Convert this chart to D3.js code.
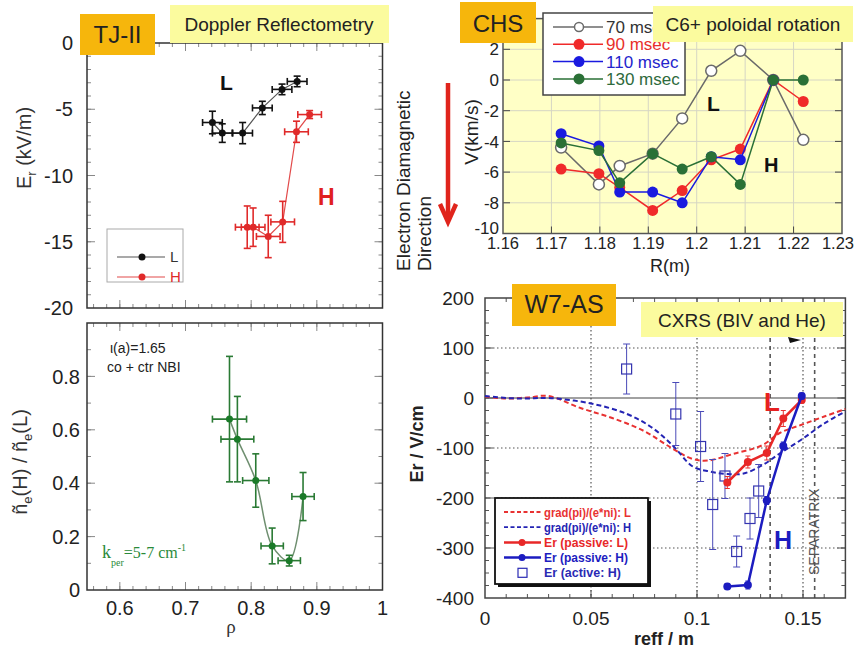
<!DOCTYPE html>
<html>
<head>
<meta charset="utf-8">
<script src="https://cdn.jsdelivr.net/npm/d3@7"></script>
<style>
body{margin:0;background:#fff;}
svg{display:block;font-family:"Liberation Sans",Arial,sans-serif;}
</style>
</head>
<body>
<svg id="chart" width="857" height="655"></svg>
<script>
// ---------- TJ-II: Er from Doppler reflectometry
var tjRhoL   = [0.741, 0.756, 0.787, 0.817, 0.847, 0.870];
var tjErL    = [-6.0, -6.8, -6.8, -4.9, -3.5, -2.9];
var tjErLerr = [0.85, 0.7, 0.8, 0.5, 0.4, 0.4];
var tjRhoH   = [0.794, 0.803, 0.826, 0.848, 0.869, 0.889];
var tjErH    = [-13.9, -13.9, -14.6, -13.5, -6.7, -5.4];
var tjErHerr = [1.6, 1.45, 1.6, 1.55, 0.8, 0.3];
var tjErTicks = [0, -5, -10, -15, -20];

// ---------- TJ-II: fluctuation ratio
var ratRho    = [0.767, 0.779, 0.807, 0.832, 0.858, 0.879];
var ratVal    = [0.64, 0.565, 0.41, 0.165, 0.11, 0.35];
var ratErr    = [0.235, 0.16, 0.1, 0.067, 0.02, 0.09];
var ratRhoErr = [0.026, 0.025, 0.02, 0.017, 0.017, 0.017];
var ratTicks  = [0, 0.2, 0.4, 0.6, 0.8];
var rhoTicks  = [0.6, 0.7, 0.8, 0.9, 1];

// ---------- CHS: C6+ poloidal rotation
var chsR    = [1.172, 1.1798, 1.1841, 1.1909, 1.197, 1.203, 1.209, 1.2158, 1.222];
var chsV70  = [-4.4, -6.8, -5.6, -4.8, -2.5, 0.6, 1.9, 0, -3.9];
var chsV90  = [-5.8, -6.1, -7.0, -8.5, -7.2, -5.2, -4.5, 0, -1.4];
var chsV110 = [-3.5, -4.3, -7.3, -7.3, -8.0, -5.0, -5.2, 0, null];
var chsV130 = [-4.1, -4.6, -6.7, -4.8, -5.8, -5.0, -6.8, 0, 0];
var chsNames = ["70 msec", "90 msec", "110 msec", "130 msec"];
var chsRTicks = [1.16, 1.17, 1.18, 1.19, 1.2, 1.21, 1.22, 1.23];
var chsVTicks = [-10, -8, -6, -4, -2, 0, 2];

// ---------- W7-AS: CXRS
var w7GradLr = [0, 0.01, 0.02, 0.03, 0.045, 0.06, 0.075, 0.088, 0.098, 0.105, 0.117, 0.131, 0.139, 0.149, 0.16, 0.17];
var w7GradL  = [3, -1, 1, 4, -20, -40, -66, -100, -122, -125, -112, -94, -70, -54, -37, -22];
var w7GradHr = [0, 0.01, 0.02, 0.03, 0.05, 0.067, 0.079, 0.089, 0.098, 0.106, 0.114, 0.122, 0.131, 0.139, 0.149, 0.16, 0.17];
var w7GradH  = [4, 0, -1, 0, -11, -32, -60, -97, -137, -147, -152, -151, -134, -111, -84, -51, -27];
var w7PassR  = [0.1143, 0.124, 0.1329, 0.1407, 0.1494];
var w7PassL  = [-169, -128, -110, -41, -4];
var w7PassLerr = [12, 12, 14, 16, 6];
var w7PassH  = [-377, -374, -205, -96, 4];
var w7PassHerr = [6, 8, 8, 8, 6];
var w7ActR   = [0.0668, 0.090, 0.1017, 0.1074, 0.1132, 0.1187, 0.125, 0.1291];
var w7Act    = [58, -32, -97, -213, -156, -307, -241, -186];
var w7ActErr = [50, 63, 70, 90, 45, 31, 41, 53];
var w7rTicks = [0, 0.05, 0.1, 0.15];
var w7ETicks = [200, 100, 0, -100, -200, -300, -400];

var svg = d3.select("#chart");
svg.append("rect").attr("width", 857).attr("height", 655).attr("fill", "#fff");

function tickMarks(g, x, y, xv, yv, len, sides, col) {
  var xr = x.range(), yr = y.range();
  if (sides.indexOf("b") >= 0) g.selectAll(null).data(xv).join("line")
    .attr("x1", d => x(d)).attr("x2", d => x(d)).attr("y1", yr[0]).attr("y2", yr[0] - len);
  if (sides.indexOf("t") >= 0) g.selectAll(null).data(xv).join("line")
    .attr("x1", d => x(d)).attr("x2", d => x(d)).attr("y1", yr[1]).attr("y2", yr[1] + len);
  if (sides.indexOf("l") >= 0) g.selectAll(null).data(yv).join("line")
    .attr("y1", d => y(d)).attr("y2", d => y(d)).attr("x1", xr[0]).attr("x2", xr[0] + len);
  if (sides.indexOf("r") >= 0) g.selectAll(null).data(yv).join("line")
    .attr("y1", d => y(d)).attr("y2", d => y(d)).attr("x1", xr[1]).attr("x2", xr[1] - len);
  g.selectAll("line").attr("stroke", col).attr("stroke-width", 1);
}

function frame(g, x, y, col, w) {
  g.append("rect").attr("x", x.range()[0]).attr("y", y.range()[1])
    .attr("width", x.range()[1] - x.range()[0]).attr("height", y.range()[0] - y.range()[1])
    .attr("fill", "none").attr("stroke", col).attr("stroke-width", w);
}

function errBars(g, pts, x, y, cap, col, w) {
  var e = g.append("g").attr("stroke", col).attr("stroke-width", w);
  pts.forEach(function (p) {
    if (p.ey) {
      e.append("line").attr("x1", x(p.x)).attr("x2", x(p.x)).attr("y1", y(p.y - p.ey)).attr("y2", y(p.y + p.ey));
      [p.y - p.ey, p.y + p.ey].forEach(v => e.append("line").attr("x1", x(p.x) - cap).attr("x2", x(p.x) + cap).attr("y1", y(v)).attr("y2", y(v)));
    }
    if (p.ex) {
      e.append("line").attr("y1", y(p.y)).attr("y2", y(p.y)).attr("x1", x(p.x - p.ex)).attr("x2", x(p.x + p.ex));
      [p.x - p.ex, p.x + p.ex].forEach(v => e.append("line").attr("y1", y(p.y) - cap).attr("y2", y(p.y) + cap).attr("x1", x(v)).attr("x2", x(v)));
    }
  });
}

function labelBox(x, y, w, h, fill, txt, size, bx, by) {
  svg.append("rect").attr("x", x).attr("y", y).attr("width", w).attr("height", h).attr("fill", fill);
  svg.append("text").attr("x", bx).attr("y", by).attr("text-anchor", "middle")
    .attr("font-size", size).attr("fill", "#222").text(txt);
}

// ================= TJ-II top
var xRho = d3.scaleLinear().domain([0.55, 1.0]).range([87, 382.5]);
var yEr = d3.scaleLinear().domain([-20, 0]).range([308, 43]);
var gA = svg.append("g");
var minorRho = d3.range(0.56, 0.995, 0.02);
tickMarks(gA.append("g"), xRho, yEr, minorRho, d3.range(-19, 0, 1), 4, "btlr", "#888");
tickMarks(gA.append("g"), xRho, yEr, rhoTicks, [-15, -10, -5], 8, "btlr", "#888");
frame(gA, xRho, yEr, "#333", 1.5);
gA.selectAll(null).data(tjErTicks).join("text")
  .attr("x", 73).attr("y", d => yEr(d)).attr("dy", "0.36em").attr("text-anchor", "end")
  .attr("font-size", 20).attr("fill", "#222").text(d => d);

var ptsL = tjRhoL.map((r, i) => ({x: r, y: tjErL[i], ex: 0.015, ey: tjErLerr[i]}));
var ptsH = tjRhoH.map((r, i) => ({x: r, y: tjErH[i], ex: 0.018, ey: tjErHerr[i]}));
var lineA = d3.line().x(d => xRho(d.x)).y(d => yEr(d.y));
gA.append("path").attr("d", lineA(ptsL)).attr("fill", "none").attr("stroke", "#555").attr("stroke-width", 1.2);
gA.append("path").attr("d", lineA(ptsH)).attr("fill", "none").attr("stroke", "#e24a4a").attr("stroke-width", 1.2);
errBars(gA, ptsL, xRho, yEr, 3.5, "#111", 1.6);
errBars(gA, ptsH, xRho, yEr, 3.5, "#e02a2a", 1.6);
gA.selectAll(null).data(ptsL).join("circle").attr("cx", d => xRho(d.x)).attr("cy", d => yEr(d.y)).attr("r", 3.5).attr("fill", "#111");
gA.selectAll(null).data(ptsH).join("circle").attr("cx", d => xRho(d.x)).attr("cy", d => yEr(d.y)).attr("r", 3.5).attr("fill", "#e02a2a");

gA.append("text").attr("x", 220).attr("y", 90).attr("font-size", 21).attr("font-weight", "bold").attr("fill", "#111").text("L");
gA.append("text").attr("x", 318).attr("y", 205).attr("font-size", 23).attr("font-weight", "bold").attr("fill", "#e02020").text("H");

// legend
gA.append("rect").attr("x", 107).attr("y", 229).attr("width", 76).attr("height", 53).attr("fill", "#fff").attr("stroke", "#aaa").attr("stroke-width", 1);
[["L", "#111", "#555", 257], ["H", "#e02a2a", "#e24a4a", 277]].forEach(function (e) {
  gA.append("line").attr("x1", 117).attr("x2", 165).attr("y1", e[3]).attr("y2", e[3]).attr("stroke", e[2]).attr("stroke-width", 1.2);
  gA.append("circle").attr("cx", 142).attr("cy", e[3]).attr("r", 3.5).attr("fill", e[1]);
  gA.append("text").attr("x", 170).attr("y", e[3]).attr("dy", "0.36em").attr("font-size", 15).attr("fill", e[1] === "#111" ? "#333" : "#e02a2a").text(e[0]);
});
gA.append("text").attr("transform", "translate(31,148) rotate(-90)").attr("text-anchor", "middle")
  .attr("font-size", 20).attr("fill", "#333")
  .html('E<tspan font-size="13" dy="5">r</tspan><tspan dy="-5"> (kV/m)</tspan>');

// ================= TJ-II bottom
var yRat = d3.scaleLinear().domain([0, 1]).range([590, 323]);
var gB = svg.append("g");
tickMarks(gB.append("g"), xRho, yRat, minorRho, d3.range(0.1, 1, 0.1), 4, "btlr", "#888");
tickMarks(gB.append("g"), xRho, yRat, rhoTicks, ratTicks.slice(1), 8, "btlr", "#888");
frame(gB, xRho, yRat, "#333", 1.5);
gB.selectAll(null).data(ratTicks).join("text")
  .attr("x", 80).attr("y", d => yRat(d)).attr("dy", "0.36em").attr("text-anchor", "end")
  .attr("font-size", 20).attr("fill", "#222").text(d => d);
gB.selectAll(null).data(rhoTicks).join("text")
  .attr("x", d => xRho(d)).attr("y", 615).attr("text-anchor", "middle")
  .attr("font-size", 20).attr("fill", "#222").text(d => d);
var ptsR = ratRho.map((r, i) => ({x: r, y: ratVal[i], ex: ratRhoErr[i], ey: ratErr[i]}));
gB.append("path").attr("d", d3.line().curve(d3.curveCatmullRom).x(d => xRho(d.x)).y(d => yRat(d.y))(ptsR))
  .attr("fill", "none").attr("stroke", "#6f8f70").attr("stroke-width", 1.5);
errBars(gB, ptsR, xRho, yRat, 3.5, "#2a7a34", 1.6);
gB.selectAll(null).data(ptsR).join("circle").attr("cx", d => xRho(d.x)).attr("cy", d => yRat(d.y)).attr("r", 3.5).attr("fill", "#1a7a28");
gB.append("text").attr("x", 110).attr("y", 353).attr("font-size", 14).attr("fill", "#222").text("\u03b9(a)=1.65");
gB.append("text").attr("x", 107).attr("y", 372).attr("font-size", 14).attr("fill", "#222").text("co + ctr NBI");
gB.append("text").attr("x", 102).attr("y", 558).attr("font-family", "Liberation Serif, serif").attr("fill", "#2a8a3a")
  .html('<tspan font-size="18">k</tspan><tspan font-size="10" dy="8">per</tspan><tspan font-size="16" dy="-8">=5-7 cm</tspan><tspan font-size="10" dy="-7">-1</tspan>');
gB.append("text").attr("transform", "translate(27,462) rotate(-90)").attr("text-anchor", "middle")
  .attr("font-size", 20).attr("fill", "#333")
  .html('\u00f1<tspan font-size="13" dy="5">e</tspan><tspan dy="-5">(H) / \u00f1</tspan><tspan font-size="13" dy="5">e</tspan><tspan dy="-5">(L)</tspan>');
gB.append("text").attr("x", 231).attr("y", 633).attr("text-anchor", "middle").attr("font-family", "Liberation Serif, serif")
  .attr("font-size", 19).attr("fill", "#333").text("\u03c1");

labelBox(80, 14, 75, 41, "#f6b60c", "TJ-II", 24, 117.5, 43);
labelBox(170, 5, 219, 38, "#fbfb9e", "Doppler Reflectometry", 19, 279, 31);

// ================= CHS
var xR = d3.scaleLinear().domain([1.16, 1.23]).range([503, 842]);
var yV = d3.scaleLinear().domain([-10, 4]).range([233.5, 18.6]);
var gC = svg.append("g");
gC.append("rect").attr("x", 503).attr("y", yV(4)).attr("width", 339).attr("height", yV(-10) - yV(4)).attr("fill", "#ffffc6");
gC.selectAll(null).data(chsRTicks.slice(1, -1)).join("line")
  .attr("x1", d => xR(d)).attr("x2", d => xR(d)).attr("y1", yV(4)).attr("y2", yV(-10)).attr("stroke", "#d6d6c4");
gC.selectAll(null).data(chsVTicks.slice(1)).join("line")
  .attr("y1", d => yV(d)).attr("y2", d => yV(d)).attr("x1", 503).attr("x2", 842).attr("stroke", "#d6d6c4");
tickMarks(gC.append("g"), xR, yV, chsRTicks.slice(1, -1), chsVTicks.slice(1), 7, "blr", "#444");
frame(gC, xR, yV, "#555", 1.5);
gC.selectAll(null).data(chsVTicks).join("text")
  .attr("x", 499).attr("y", d => yV(d)).attr("dy", d => d === -10 ? "0" : "0.36em").attr("text-anchor", "end")
  .attr("font-size", 17).attr("fill", "#222").text(d => d);
gC.selectAll(null).data(chsRTicks).join("text")
  .attr("x", d => xR(d)).attr("dx", (d, i) => i === chsRTicks.length - 1 ? -4 : 0).attr("y", 249).attr("text-anchor", "middle")
  .attr("font-size", 16.5).attr("fill", "#222").text(d => String(+d.toFixed(2)));

var chsSeries = [
  {v: chsV70, col: "#6a6a6a", fill: "#fff", tcol: "#333"},
  {v: chsV90, col: "#f02a2a", fill: "#f02a2a", tcol: "#e8302a"},
  {v: chsV110, col: "#1a1ae0", fill: "#1a1ae0", tcol: "#2424cc"},
  {v: chsV130, col: "#2a7036", fill: "#2a7036", tcol: "#2e6a3c"}
];
chsSeries.forEach(function (s) {
  var pts = chsR.map((r, i) => ({x: r, y: s.v[i]})).filter(p => p.y !== null);
  gC.append("path").attr("d", d3.line().x(d => xR(d.x)).y(d => yV(d.y))(pts))
    .attr("fill", "none").attr("stroke", s.col).attr("stroke-width", 1.5);
  gC.selectAll(null).data(pts).join("circle").attr("cx", d => xR(d.x)).attr("cy", d => yV(d.y))
    .attr("r", 5.5).attr("fill", s.fill).attr("stroke", s.col).attr("stroke-width", s.fill === "#fff" ? 1.5 : 0);
});
gC.append("text").attr("x", 707).attr("y", 111).attr("font-size", 21).attr("font-weight", "bold").attr("fill", "#111").text("L");
gC.append("text").attr("x", 764).attr("y", 172).attr("font-size", 20).attr("font-weight", "bold").attr("fill", "#111").text("H");
// legend
gC.append("rect").attr("x", 543).attr("y", 13).attr("width", 142).attr("height", 82).attr("fill", "#fff").attr("stroke", "#444").attr("stroke-width", 1.5);
chsSeries.forEach(function (s, i) {
  var yy = 27 + i * 17.3;
  gC.append("line").attr("x1", 553).attr("x2", 603).attr("y1", yy).attr("y2", yy).attr("stroke", s.col).attr("stroke-width", 1.5);
  gC.append("circle").attr("cx", 579).attr("cy", yy).attr("r", s.fill === "#fff" ? 4.5 : 5.5).attr("fill", s.fill)
    .attr("stroke", s.col).attr("stroke-width", s.fill === "#fff" ? 1.5 : 0);
  gC.append("text").attr("x", 606).attr("y", yy).attr("dy", "0.36em").attr("font-size", 17).attr("fill", s.tcol).text(chsNames[i]);
});
gC.append("text").attr("transform", "translate(478,132) rotate(-90)").attr("text-anchor", "middle")
  .attr("font-size", 19).attr("fill", "#222").text("V(km/s)");
gC.append("text").attr("x", 670).attr("y", 272).attr("text-anchor", "middle").attr("font-size", 18).attr("fill", "#222").text("R(m)");
labelBox(460, 2, 76, 41, "#f6b60c", "CHS", 24, 498, 32);
labelBox(653, 6, 200, 36, "#fbfb9e", "C6+ poloidal rotation", 19, 753, 31);

// arrow + direction text
svg.append("line").attr("x1", 448).attr("x2", 448).attr("y1", 83).attr("y2", 220).attr("stroke", "#e0241c").attr("stroke-width", 4.5);
svg.append("path").attr("d", "M440,204 L448,222 L456,204").attr("fill", "none").attr("stroke", "#e0241c").attr("stroke-width", 4.5);
svg.append("text").attr("transform", "translate(410,271) rotate(-90)").attr("font-size", 19).attr("fill", "#222").text("Electron Diamagnetic");
svg.append("text").attr("transform", "translate(431,271) rotate(-90)").attr("font-size", 19).attr("fill", "#222").text("Direction");

// ================= W7-AS
var xE = d3.scaleLinear().domain([0, 0.17]).range([485, 845.4]);
var yE = d3.scaleLinear().domain([-400, 200]).range([598, 298]);
var gD = svg.append("g");
// grid
gD.selectAll(null).data([100, -100, -200, -300]).join("line")
  .attr("y1", d => yE(d)).attr("y2", d => yE(d)).attr("x1", 485).attr("x2", 845.4)
  .attr("stroke", "#555").attr("stroke-width", 1.2).attr("stroke-dasharray", "1.5,2.5");
gD.selectAll(null).data([0.05, 0.1, 0.15]).join("line")
  .attr("x1", d => xE(d)).attr("x2", d => xE(d)).attr("y1", 298).attr("y2", 598)
  .attr("stroke", "#555").attr("stroke-width", 1.2).attr("stroke-dasharray", "1.5,2.5");
gD.selectAll(null).data([0.1345, 0.1555]).join("line")
  .attr("x1", d => xE(d)).attr("x2", d => xE(d)).attr("y1", 298).attr("y2", 598)
  .attr("stroke", "#555").attr("stroke-width", 1.6).attr("stroke-dasharray", "4,4");
gD.append("line").attr("x1", 485).attr("x2", 845.4).attr("y1", yE(0)).attr("y2", yE(0)).attr("stroke", "#444").attr("stroke-width", 1.2);
tickMarks(gD.append("g"), xE, yE, d3.range(0.01, 0.17, 0.01), d3.range(-375, 200, 25), 4, "btlr", "#555");
tickMarks(gD.append("g"), xE, yE, [0.05, 0.1, 0.15], [-300, -200, -100, 0, 100], 8, "btlr", "#555");
frame(gD, xE, yE, "#444", 1.5);
gD.selectAll(null).data(w7ETicks).join("text")
  .attr("x", 474).attr("y", d => yE(d)).attr("dy", "0.36em").attr("text-anchor", "end")
  .attr("font-size", 19).attr("fill", "#222").text(d => d);
gD.selectAll(null).data(w7rTicks).join("text")
  .attr("x", d => xE(d)).attr("y", 625).attr("text-anchor", "middle")
  .attr("font-size", 19).attr("fill", "#222").text(d => d);

var curve = d3.line().curve(d3.curveCatmullRom).x(d => xE(d[0])).y(d => yE(d[1]));
gD.append("path").attr("d", curve(d3.zip(w7GradLr, w7GradL))).attr("fill", "none")
  .attr("stroke", "#e83232").attr("stroke-width", 2).attr("stroke-dasharray", "5,3");
gD.append("path").attr("d", curve(d3.zip(w7GradHr, w7GradH))).attr("fill", "none")
  .attr("stroke", "#2424b4").attr("stroke-width", 2).attr("stroke-dasharray", "5,3");

var ptsAct = w7ActR.map((r, i) => ({x: r, y: w7Act[i], ey: w7ActErr[i]}));
errBars(gD, ptsAct, xE, yE, 3.5, "#4a4ab8", 1);
gD.selectAll(null).data(ptsAct).join("rect").attr("x", d => xE(d.x) - 5).attr("y", d => yE(d.y) - 5)
  .attr("width", 10).attr("height", 10).attr("fill", "none").attr("stroke", "#3434b0").attr("stroke-width", 1.2);

var lineE = d3.line().x(d => xE(d.x)).y(d => yE(d.y));
var ptsPL = w7PassR.map((r, i) => ({x: r, y: w7PassL[i], ey: w7PassLerr[i]}));
var ptsPH = w7PassR.map((r, i) => ({x: r, y: w7PassH[i], ey: w7PassHerr[i]}));
errBars(gD, ptsPL, xE, yE, 2.5, "#e83232", 1);
gD.append("path").attr("d", lineE(ptsPL)).attr("fill", "none").attr("stroke", "#e82828").attr("stroke-width", 2.5);
gD.selectAll(null).data(ptsPL).join("circle").attr("cx", d => xE(d.x)).attr("cy", d => yE(d.y)).attr("r", 4).attr("fill", "#e82828");
errBars(gD, ptsPH, xE, yE, 2.5, "#2020c0", 1);
gD.append("path").attr("d", lineE(ptsPH)).attr("fill", "none").attr("stroke", "#1c1cc0").attr("stroke-width", 2.5);
gD.selectAll(null).data(ptsPH).join("circle").attr("cx", d => xE(d.x)).attr("cy", d => yE(d.y)).attr("r", 4).attr("fill", "#1c1cc0");

gD.append("text").attr("x", 764).attr("y", 411).attr("font-size", 26).attr("font-weight", "bold").attr("fill", "#e82020").text("L");
gD.append("text").attr("x", 774).attr("y", 549).attr("font-size", 25).attr("font-weight", "bold").attr("fill", "#1c1cc0").text("H");
gD.append("text").attr("transform", "translate(819,575) rotate(-90)").attr("font-size", 14).attr("fill", "#555").text("SEPARATRIX");

// legend
gD.append("rect").attr("x", 498).attr("y", 501).attr("width", 153).attr("height", 86).attr("fill", "#111");
gD.append("rect").attr("x", 495).attr("y", 498).attr("width", 153).attr("height", 86).attr("fill", "#fff").attr("stroke", "#111").attr("stroke-width", 1.8);
var w7Leg = [
  {t: "grad(pi)/(e*ni): L", c: "#e83232", dash: "4,2.5", m: null, w: 87},
  {t: "grad(pi)/(e*ni): H", c: "#2424b4", dash: "4,2.5", m: null, w: 87},
  {t: "Er (passive: L)", c: "#e82828", dash: null, m: "c", w: 84},
  {t: "Er (passive: H)", c: "#1c1cc0", dash: null, m: "c", w: 84},
  {t: "Er (active: H)", c: "#2a2ab4", dash: null, m: "s", w: 77}
];
w7Leg.forEach(function (e, i) {
  var yy = 512 + i * 15.2;
  if (e.m !== "s") gD.append("line").attr("x1", 504).attr("x2", 541).attr("y1", yy).attr("y2", yy)
    .attr("stroke", e.c).attr("stroke-width", e.dash ? 1.8 : 2.5).attr("stroke-dasharray", e.dash);
  if (e.m === "c") gD.append("circle").attr("cx", 522).attr("cy", yy).attr("r", 3.5).attr("fill", e.c);
  if (e.m === "s") gD.append("rect").attr("x", 518).attr("y", yy - 4.5).attr("width", 9).attr("height", 9)
    .attr("fill", "none").attr("stroke", e.c).attr("stroke-width", 1.2);
  gD.append("text").attr("x", 544).attr("y", yy).attr("dy", "0.36em").attr("font-size", 13).attr("font-weight", "bold")
    .attr("fill", e.c).attr("textLength", e.w).attr("lengthAdjust", "spacingAndGlyphs").text(e.t);
});

gD.append("text").attr("transform", "translate(423,444) rotate(-90)").attr("text-anchor", "middle")
  .attr("font-size", 18).attr("font-weight", "bold").attr("fill", "#222").text("Er / V/cm");
gD.append("text").attr("x", 664).attr("y", 645).attr("text-anchor", "middle")
  .attr("font-size", 18).attr("font-weight", "bold").attr("fill", "#222").text("reff / m");

labelBox(512, 284, 104, 42, "#f6b60c", "W7-AS", 25, 564, 313);
labelBox(641, 302, 202, 35, "#fbfb9e", "CXRS (BIV and He)", 19, 742, 327);
svg.append("path").attr("d", "M788,337 L801,340 L790,343 Z").attr("fill", "#111");
</script>
</body>
</html>
